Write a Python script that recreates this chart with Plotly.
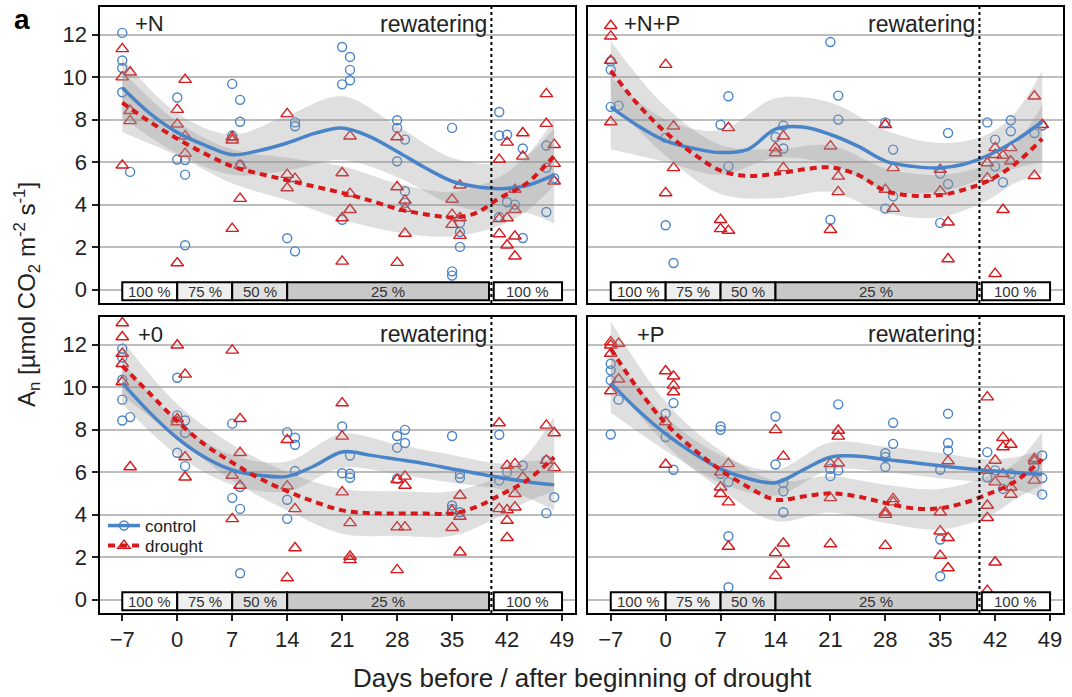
import plotly.graph_objects as go

FONT = "Liberation Sans"
BLUE = "#4a84c8"
RED = "#d7191c"

panels = ["+N", "+N+P", "+0", "+P"]
x_ticks = [-7, 0, 7, 14, 21, 28, 35, 42, 49]
x_ticklabels = ["\u22127", "0", "7", "14", "21", "28", "35", "42", "49"]
y_ticks = [0, 2, 4, 6, 8, 10, 12]
rewater_day = 40

stage_labels = ["100 %", "75 %", "50 %", "25 %", "100 %"]
stage_start = [-7, 0, 7, 14, 40.3]
stage_end = [0, 7, 14, 39.7, 49]
stage_fill = ["#ffffff", "#efefef", "#e0e0e0", "#c8c8c8", "#ffffff"]

# observations: day -> values
N_ctrl = {-7: [12.08, 10.78, 10.43, 9.29], -6: [5.54], 0: [9.04, 6.12], 1: [6.1, 5.41, 2.09],
          7: [9.68, 7.25], 8: [8.93, 7.9, 5.88], 14: [2.42], 15: [7.87, 7.69, 1.80],
          21: [11.42, 9.66, 3.29], 22: [10.95, 10.34, 9.85], 28: [7.97, 7.61, 6.04],
          29: [7.06, 4.63, 4.08], 35: [7.61, 0.86, 0.66], 36: [3.14, 2.71, 2.01],
          41: [8.36, 7.25, 3.42], 42: [7.29, 4.11], 43: [4.0], 44: [6.64, 2.43],
          47: [6.78, 5.73, 3.65], 48: [5.24]}
N_dro = {-7: [11.33, 10.0, 5.85], -6: [10.23, 8.42, 7.94], 0: [8.47, 7.78, 1.25], 1: [9.88, 7.22, 6.4],
         7: [7.17, 7.03, 2.87], 8: [5.84, 4.28], 14: [8.27, 5.41, 4.78], 15: [5.22],
         21: [5.49, 3.37, 1.33], 22: [7.22, 4.52, 3.76], 28: [7.18, 4.83, 1.27], 29: [4.2, 3.81, 2.64],
         35: [4.24, 3.53, 3.06], 36: [4.91, 3.37, 2.54], 41: [6.12, 3.33, 2.62], 42: [6.93, 3.37, 2.09],
         43: [4.71, 3.76, 2.51, 1.57], 44: [7.37, 6.27], 47: [9.21, 7.81], 48: [6.82, 5.93, 5.1]}
NP_ctrl = {-7: [10.75, 10.35, 8.6], -6: [8.66], 0: [7.14, 3.03], 1: [1.25], 7: [7.76], 8: [9.1, 5.8],
           14: [7.18], 15: [7.72, 6.64], 21: [11.65, 3.29], 22: [9.13, 8.0], 28: [7.87, 3.81],
           29: [6.59, 4.39], 35: [5.46, 3.14], 36: [7.37, 4.97], 41: [7.87], 42: [7.06, 5.8],
           43: [5.05], 44: [7.97, 7.45], 47: [7.37], 48: [7.72]}
NP_dro = {-7: [12.42, 11.92, 10.78, 7.89], 0: [10.59, 4.55], 1: [7.69, 5.73], 7: [3.29, 2.86],
          8: [2.78, 7.61], 14: [6.67, 6.43], 15: [7.22, 5.73], 21: [6.75, 2.82], 22: [5.33, 4.6],
          28: [7.76, 4.71], 29: [5.73, 3.81], 35: [5.65, 4.63], 36: [3.17, 1.44], 41: [5.96, 5.25],
          42: [6.67, 6.35, 0.75], 43: [6.31, 3.76], 44: [6.67, 6.04], 47: [9.1, 5.36], 48: [7.76]}
O_ctrl = {-7: [11.81, 11.39, 10.35, 9.41, 8.43], -6: [8.59], 0: [10.44, 8.67, 6.91], 1: [8.43, 7.84, 6.28],
          7: [8.28, 4.79], 8: [4.27, 1.24, 5.3], 14: [7.88, 4.7, 3.8], 15: [7.62, 7.29, 6.05],
          21: [8.15, 5.95], 22: [6.78, 5.92, 5.73], 28: [7.7, 7.15, 5.69], 29: [7.99, 7.37],
          35: [7.7, 4.43, 4.27], 36: [5.92, 5.73, 4.11], 41: [7.76, 5.61], 42: [6.0], 44: [6.31],
          47: [4.07, 6.55], 48: [4.82]}
O_dro = {-7: [13.02, 12.36, 11.58, 11.1, 10.24], -6: [6.24], 0: [11.97, 8.51, 8.36], 1: [10.6, 6.71, 5.76],
         7: [11.73, 5.84, 3.8], 8: [8.51, 6.91, 5.37], 14: [7.52, 5.34, 1.02], 15: [4.27, 2.43],
         21: [9.25, 7.68, 5.06], 22: [3.61, 2.03, 1.87], 28: [5.64, 3.41, 1.4], 29: [5.8, 5.37, 3.41],
         35: [4.19, 3.38], 36: [4.9, 3.91, 2.23], 41: [8.31, 4.27], 42: [6.31, 4.22, 3.72, 2.91],
         43: [6.39, 4.98, 4.35], 44: [5.76], 47: [8.2, 6.55], 48: [7.84, 6.2]}
P_ctrl = {-7: [11.1, 10.79, 10.32, 7.77], -6: [9.41], 0: [8.75, 7.65], 1: [9.25, 6.11],
          7: [8.15, 7.99, 5.92], 8: [5.53, 2.98, 0.58], 14: [8.62, 6.36], 15: [5.48, 5.1, 4.11],
          21: [6.16, 5.81], 22: [9.19, 6.08], 28: [6.89, 6.71, 6.24], 29: [8.32, 7.33],
          35: [6.11, 2.83, 1.1], 36: [8.75, 7.37, 7.02], 41: [6.94, 5.76], 42: [6.08], 43: [5.21],
          44: [5.92], 47: [6.24], 48: [6.78, 5.72, 4.95]}
P_dro = {-7: [12.12, 11.97, 11.58, 9.82], -6: [12.05, 10.37], 0: [10.76, 8.36, 6.36], 1: [10.51, 10.08, 9.77],
         7: [6.0, 5.29, 4.98], 8: [6.39, 4.59, 2.5], 14: [7.99, 2.2, 1.13], 15: [6.74, 2.65, 1.65],
         21: [6.39, 4.79, 2.62], 22: [7.96, 7.68, 6.42], 28: [4.11, 4.0, 2.54], 29: [4.74, 4.59],
         35: [4.11, 3.22, 2.07], 36: [6.52, 2.91, 1.49], 41: [9.53, 6.08, 4.43, 3.85, 0.42],
         42: [6.55, 5.53, 1.76], 43: [7.62, 7.18, 5.92], 44: [7.3, 5.29, 4.95], 47: [6.63, 6.52, 5.61]}

# smoothed fits
fit_days = [-7, -3.5, 0, 3.5, 7, 10.5, 14, 17.5, 21, 24.5, 28, 31.5, 35, 38, 41, 44.5, 48]
N_ctrl_fit = [9.5, 8.3, 7.4, 6.8, 6.35, 6.55, 6.9, 7.35, 7.6, 7.2, 6.5, 5.75, 5.1, 4.85, 4.75, 4.9, 5.4]
N_dro_fit = [8.8, 7.9, 7.1, 6.4, 5.8, 5.45, 5.15, 4.85, 4.55, 4.2, 3.8, 3.55, 3.4, 3.6, 4.3, 5.0, 6.3]
NP_ctrl_fit = [8.6, 7.7, 7.0, 6.65, 6.45, 6.6, 7.55, 7.65, 7.3, 6.75, 6.05, 5.8, 5.73, 5.9, 6.3, 7.0, 7.9]
NP_dro_fit = [10.3, 8.7, 7.4, 6.4, 5.6, 5.35, 5.45, 5.65, 5.75, 5.4, 4.65, 4.42, 4.45, 4.7, 5.1, 5.9, 7.1]
O_ctrl_fit = [10.2, 8.8, 7.6, 6.7, 6.1, 5.85, 5.8, 6.3, 6.95, 6.8, 6.6, 6.4, 6.15, 5.95, 5.75, 5.55, 5.4]
O_dro_fit = [11.0, 9.7, 8.4, 7.3, 6.45, 5.7, 5.1, 4.6, 4.2, 4.07, 4.05, 4.05, 4.05, 4.35, 4.9, 5.6, 6.7]
P_ctrl_fit = [10.2, 8.9, 7.8, 6.9, 6.15, 5.7, 5.5, 6.1, 6.7, 6.75, 6.6, 6.45, 6.3, 6.18, 6.08, 5.98, 5.9]
P_dro_fit = [11.8, 9.9, 8.3, 7.1, 6.1, 5.3, 4.7, 4.85, 5.0, 4.85, 4.55, 4.3, 4.3, 4.55, 4.95, 5.55, 6.6]

# confidence bands
band_days = [-7, 0, 7, 14, 21, 28, 35, 41, 44.5, 48]
N_ctrl_hi = [10.9, 8.3, 7.3, 8.2, 9.1, 7.7, 6.2, 5.9, 6.3, 7.6]
N_ctrl_lo = [8.1, 6.4, 5.4, 5.6, 6.1, 5.3, 4.0, 3.6, 3.6, 3.1]
N_dro_hi = [10.3, 7.9, 6.6, 6.2, 5.8, 5.0, 4.6, 5.3, 6.3, 8.0]
N_dro_lo = [7.4, 6.3, 5.0, 4.2, 3.3, 2.7, 2.5, 3.0, 3.7, 4.9]
NP_ctrl_hi = [10.0, 8.0, 7.5, 9.0, 8.8, 7.5, 6.9, 7.3, 8.3, 10.3]
NP_ctrl_lo = [6.6, 6.0, 5.4, 6.2, 5.9, 4.7, 4.6, 5.3, 5.7, 6.0]
NP_dro_hi = [11.7, 8.6, 6.8, 6.6, 6.8, 5.7, 5.4, 5.9, 6.8, 8.7]
NP_dro_lo = [8.9, 6.3, 4.5, 4.3, 4.6, 3.6, 3.4, 4.2, 5.0, 5.5]
O_ctrl_hi = [11.2, 8.4, 6.8, 6.5, 7.8, 7.3, 6.8, 6.4, 6.5, 6.6]
O_ctrl_lo = [9.2, 6.8, 5.4, 5.1, 6.2, 5.9, 5.5, 5.2, 4.8, 4.2]
O_dro_hi = [12.2, 9.2, 7.3, 6.0, 5.2, 5.1, 5.1, 5.8, 6.8, 8.6]
O_dro_lo = [9.6, 7.6, 5.6, 4.2, 3.1, 3.0, 3.0, 3.9, 4.6, 5.1]
P_ctrl_hi = [11.6, 8.6, 6.8, 6.1, 7.4, 7.2, 6.9, 6.6, 6.7, 7.0]
P_ctrl_lo = [8.8, 7.0, 5.5, 4.9, 6.1, 6.0, 5.7, 5.5, 5.2, 4.8]
P_dro_hi = [13.1, 9.3, 7.0, 5.6, 5.8, 5.4, 5.2, 5.8, 6.4, 7.9]
P_dro_lo = [10.4, 7.3, 5.2, 3.7, 4.1, 3.6, 3.3, 3.9, 4.7, 5.4]

series = [
    (N_ctrl, N_dro, N_ctrl_fit, N_dro_fit, N_ctrl_hi, N_ctrl_lo, N_dro_hi, N_dro_lo),
    (NP_ctrl, NP_dro, NP_ctrl_fit, NP_dro_fit, NP_ctrl_hi, NP_ctrl_lo, NP_dro_hi, NP_dro_lo),
    (O_ctrl, O_dro, O_ctrl_fit, O_dro_fit, O_ctrl_hi, O_ctrl_lo, O_dro_hi, O_dro_lo),
    (P_ctrl, P_dro, P_ctrl_fit, P_dro_fit, P_ctrl_hi, P_ctrl_lo, P_dro_hi, P_dro_lo),
]
label_x = [-5.6, -5.6, -5.3, -3.9]

W, H = 1072, 697
xdom = [(99.5 / W, 575 / W), (588 / W, 1063 / W)]
ydom = [(1 - 303 / H, 1 - 7 / H), (1 - 613 / H, 1 - 317 / H)]
XR = [-9.9, 50.65]
YR = [-0.63, 13.3]
BAND = "rgba(150,150,150,0.30)"


def flat(d):
    xs, ys = [], []
    for k, vals in d.items():
        for v in vals:
            xs.append(k)
            ys.append(v)
    return xs, ys


fig = go.Figure()
layout = dict(width=W, height=H, margin=dict(l=0, r=0, t=0, b=0),
              paper_bgcolor="white", plot_bgcolor="white",
              font=dict(family=FONT, color="#222"), showlegend=True)
shapes, annotations = [], []

for i, (ctrl, dro, cfit, dfit, chi, clo, dhi, dlo) in enumerate(series):
    n = i + 1
    sfx = "" if n == 1 else str(n)
    xa, ya = "x" + sfx, "y" + sfx
    col, row = i % 2, i // 2
    kw = dict(xaxis=xa, yaxis=ya, showlegend=False, hoverinfo="skip")

    cx, cy = flat(ctrl)
    dx, dy = flat(dro)
    fig.add_trace(go.Scatter(x=cx, y=cy, mode="markers",
                             marker=dict(symbol="circle-open", size=9, color=BLUE, line=dict(width=1.4)), **kw))
    fig.add_trace(go.Scatter(x=dx, y=dy, mode="markers",
                             marker=dict(symbol="triangle-up-open", size=11, color=RED, line=dict(width=1.4)), **kw))
    for hi, lo in ((chi, clo), (dhi, dlo)):
        fig.add_trace(go.Scatter(x=band_days, y=lo, mode="lines", line=dict(width=0, shape="spline"), **kw))
        fig.add_trace(go.Scatter(x=band_days, y=hi, mode="lines", line=dict(width=0, shape="spline"),
                                 fill="tonexty", fillcolor=BAND, **kw))
    fig.add_trace(go.Scatter(x=fit_days, y=cfit, mode="lines",
                             line=dict(color=BLUE, width=3.5, shape="spline"), **kw))
    fig.add_trace(go.Scatter(x=fit_days, y=dfit, mode="lines",
                             line=dict(color=RED, width=4, shape="spline", dash="7px,5px"), **kw))

    xaxis = dict(domain=xdom[col], range=XR, anchor=ya, tickvals=x_ticks, ticktext=x_ticklabels,
                 showgrid=False, zeroline=False, showline=True, mirror=True, linecolor="black", linewidth=2,
                 tickfont=dict(size=22, color="#222", family=FONT))
    if row == 1:
        xaxis.update(ticks="outside", ticklen=6, tickwidth=2, tickcolor="#222", showticklabels=True)
    else:
        xaxis.update(ticks="", showticklabels=False)
    yaxis = dict(domain=ydom[row], range=YR, anchor=xa, tickvals=y_ticks,
                 showgrid=True, gridcolor="#bdbdbd", gridwidth=2, zeroline=False,
                 showline=True, mirror=True, linecolor="black", linewidth=2,
                 tickfont=dict(size=22, color="#222", family=FONT))
    if col == 0:
        yaxis.update(ticks="outside", ticklen=6, tickwidth=2, tickcolor="#222", showticklabels=True)
    else:
        yaxis.update(ticks="", showticklabels=False)
    layout["xaxis" + sfx] = xaxis
    layout["yaxis" + sfx] = yaxis

    # rewatering line
    shapes.append(dict(type="line", xref=xa, yref=ya + " domain", x0=rewater_day, x1=rewater_day, y0=0, y1=1,
                       line=dict(color="black", width=2, dash="dot"), layer="above"))
    # stage boxes
    for s0, s1, fc, lab in zip(stage_start, stage_end, stage_fill, stage_labels):
        shapes.append(dict(type="rect", xref=xa, yref=ya, x0=s0, x1=s1, y0=-0.5, y1=0.35,
                           fillcolor=fc, line=dict(color="black", width=2), layer="above"))
        annotations.append(dict(x=(s0 + s1) / 2, y=-0.08, xref=xa, yref=ya, text=lab, showarrow=False,
                                font=dict(size=15, color="#333", family=FONT), xanchor="center", yanchor="middle"))
    annotations.append(dict(x=label_x[i], y=12.5, xref=xa, yref=ya, text=panels[i], showarrow=False,
                            font=dict(size=22, color="#222", family=FONT), xanchor="left", yanchor="middle"))
    annotations.append(dict(x=rewater_day - 0.3, y=12.5, xref=xa, yref=ya, text="rewatering", showarrow=False,
                            font=dict(size=23, color="#222", family=FONT), xanchor="right", yanchor="middle"))

# legend entries (one legend per row for exact spacing)
fig.add_trace(go.Scatter(x=[None], y=[None], mode="lines+markers", name="control", xaxis="x3", yaxis="y3",
                         legend="legend",
                         line=dict(color=BLUE, width=3.5),
                         marker=dict(symbol="circle-open", size=9, color=BLUE, line=dict(width=1.4))))
fig.add_trace(go.Scatter(x=[None], y=[None], mode="lines+markers", name="drought", xaxis="x3", yaxis="y3",
                         legend="legend2",
                         line=dict(color=RED, width=4, dash="7px,5px"),
                         marker=dict(symbol="triangle-up-open", size=11, color=RED, line=dict(width=1.4))))

annotations.append(dict(x=27 / W, y=1 - 295 / H, xref="paper", yref="paper", textangle=-90,
                        text="A<sub>n</sub> [µmol CO<sub>2</sub> m<sup>-2</sup> s<sup>-1</sup>]",
                        showarrow=False, font=dict(size=24, color="#222", family=FONT),
                        xanchor="center", yanchor="middle"))
annotations.append(dict(x=582 / W, y=1 - 678 / H, xref="paper", yref="paper",
                        text="Days before / after beginning of drought", showarrow=False,
                        font=dict(size=26, color="#222", family=FONT), xanchor="center", yanchor="middle"))
annotations.append(dict(x=22 / W, y=1 - 20 / H, xref="paper", yref="paper", text="<b>a</b>", showarrow=False,
                        font=dict(size=28, color="black", family=FONT), xanchor="center", yanchor="middle"))

layout["shapes"] = shapes
layout["annotations"] = annotations
leg_common = dict(x=103 / W, xanchor="left", yanchor="middle", bgcolor="rgba(0,0,0,0)",
                  font=dict(size=17, color="#222", family=FONT), itemwidth=32)
layout["legend"] = dict(y=1 - 526 / H, **leg_common)
layout["legend2"] = dict(y=1 - 546 / H, **leg_common)
fig.update_layout(**layout)
fig.write_html("out.html", config={"displayModeBar": False},
               post_script="document.body.style.margin='0px';")
